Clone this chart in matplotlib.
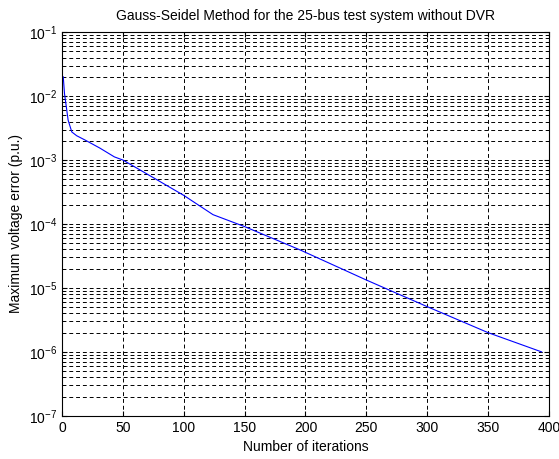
import numpy as np
import matplotlib
matplotlib.use('Agg')
import matplotlib.pyplot as plt
from matplotlib.ticker import LogLocator, FixedLocator

plt.rcParams['font.family'] = 'Liberation Sans'
plt.rcParams['mathtext.fontset'] = 'custom'
plt.rcParams['mathtext.rm'] = 'Liberation Sans'
plt.rcParams['mathtext.it'] = 'Liberation Sans'

# values
iterations = [1, 2, 5, 8, 12, 19, 31, 43, 50, 75, 100, 124, 150, 196, 200, 250, 300, 350, 394]
max_error = [2.0e-2, 1.1e-2, 4.2e-3, 2.75e-3, 2.4e-3, 2.05e-3, 1.54e-3, 1.12e-3, 1.0e-3,
             5.3e-4, 2.8e-4, 1.4e-4, 9.1e-5, 3.9e-5, 3.6e-5, 1.33e-5, 5.1e-6, 2.0e-6, 1.0e-6]

fig = plt.figure(figsize=(5.59, 4.59), dpi=100)
ax = fig.add_axes([0.111, 0.094, 0.871, 0.836])

ax.semilogy(iterations, max_error, color='#0000ff', lw=0.8)

ax.set_xlim(0, 400)
ax.set_ylim(1e-7, 1e-1)
ax.xaxis.set_major_locator(FixedLocator(np.arange(0, 401, 50)))
ax.yaxis.set_major_locator(LogLocator(base=10, numticks=10))
ax.yaxis.set_minor_locator(LogLocator(base=10, subs=np.arange(2, 10), numticks=20))

ax.grid(True, which='major', axis='both', color='k', ls=(0, (4, 3)), lw=0.7)
ax.grid(True, which='minor', axis='y', color='k', ls=(0, (4, 3)), lw=0.7)
ax.tick_params(direction='in', which='both', labelsize=10, top=True, right=True)
ax.tick_params(which='minor', labelleft=False)

ax.set_title('Gauss-Seidel Method for the 25-bus test system without DVR', fontsize=10, pad=9)
ax.set_xlabel('Number of iterations', fontsize=10, labelpad=4)
ax.set_ylabel('Maximum voltage error (p.u.)', fontsize=10)

fig.savefig('out.png', dpi=100)
